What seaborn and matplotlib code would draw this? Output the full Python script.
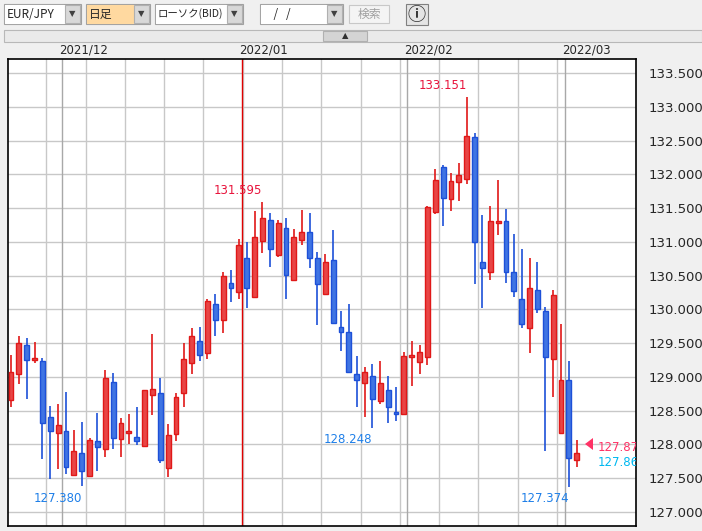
import matplotlib
matplotlib.use("Agg")
import matplotlib.pyplot as plt
from matplotlib.patches import Rectangle, Polygon
import numpy as np
import pandas as pd
import seaborn as sns

# daily EUR/JPY candles (BID)
opens = [128.66, 129.04, 129.47, 129.25, 129.23, 128.41, 128.17, 128.20, 127.55, 127.87,
         127.53, 128.05, 127.93, 128.92, 128.08, 128.17, 128.11, 127.98, 128.73, 128.76,
         127.65, 128.15, 128.76, 129.20, 129.53, 129.35, 130.08, 129.84, 130.39, 130.26,
         130.76, 130.18, 131.01, 131.33, 130.80, 131.20, 130.43, 131.02, 131.14, 130.76,
         130.23, 130.73, 129.74, 129.67, 129.04, 128.91, 129.01, 128.65, 128.81, 128.48,
         128.45, 129.29, 129.22, 129.30, 131.44, 132.11, 131.63, 131.89, 131.93, 132.55,
         130.70, 130.55, 131.28, 131.31, 130.55, 130.16, 129.73, 130.28, 129.97, 129.26,
         128.17, 128.96, 127.77]
closes = [129.07, 129.50, 129.25, 129.27, 128.32, 128.20, 128.29, 127.66, 127.90, 127.61,
          128.07, 127.96, 128.98, 128.10, 128.32, 128.18, 128.05, 128.80, 128.82, 127.77,
          128.14, 128.70, 129.26, 129.60, 129.32, 130.12, 129.84, 130.49, 130.32, 130.95,
          130.32, 131.07, 131.35, 130.89, 131.28, 130.51, 131.07, 131.14, 130.76, 130.37,
          130.70, 129.80, 129.67, 129.07, 128.96, 129.07, 128.67, 128.91, 128.56, 128.45,
          129.31, 129.30, 129.37, 131.52, 131.92, 131.65, 131.90, 131.99, 132.57, 131.00,
          130.62, 131.31, 131.31, 130.56, 130.27, 129.78, 130.31, 130.00, 129.30, 130.22,
          128.96, 127.80, 127.87]
highs = [129.32, 129.60, 129.57, 129.52, 129.28, 128.57, 128.60, 128.78, 128.22, 128.34,
         128.09, 128.47, 129.11, 129.06, 128.39, 128.45, 128.56, 128.81, 129.64, 128.98,
         128.30, 128.76, 129.50, 129.73, 129.74, 130.16, 130.23, 130.56, 130.59, 131.04,
         131.00, 131.46, 131.595, 131.42, 131.33, 131.36, 131.19, 131.47, 131.42, 130.85,
         130.82, 131.17, 129.98, 130.08, 129.31, 129.15, 129.19, 129.24, 129.01, 128.85,
         129.37, 129.53, 129.47, 131.53, 132.08, 132.14, 132.02, 132.16, 133.151, 132.61,
         131.39, 131.53, 131.91, 131.49, 131.11, 130.89, 130.76, 130.70, 130.03, 130.28,
         129.78, 129.23, 128.07]
lows = [128.55, 128.89, 128.68, 129.21, 127.78, 127.49, 127.64, 127.56, 127.55, 127.380,
        127.52, 127.60, 127.81, 127.93, 127.81, 128.00, 127.99, 127.98, 128.44, 127.73,
        127.52, 128.05, 128.55, 129.04, 129.23, 129.27, 129.60, 129.65, 130.11, 130.15,
        130.02, 130.18, 130.83, 130.63, 130.77, 130.15, 130.42, 130.95, 130.61, 129.77,
        130.23, 129.80, 129.38, 129.07, 128.56, 128.41, 128.248, 128.60, 128.32, 128.35,
        128.45, 128.87, 129.04, 129.17, 131.41, 131.24, 131.46, 131.61, 131.85, 130.37,
        130.02, 130.43, 131.10, 130.39, 130.19, 129.73, 129.35, 129.94, 127.91, 128.71,
        128.17, 127.374, 127.66]

week_lines = [4.5, 9.5, 14.5, 19.5, 24.5, 29.5, 34.5, 39.5, 44.5, 49.5, 54.5, 59.5, 64.5, 69.5]
month_lines = [6.5, 29.45, 50.4, 70.5]
month_labels = ["2021/12", "2022/01", "2022/02", "2022/03"]
price_ticks = [127.0, 127.5, 128.0, 128.5, 129.0, 129.5, 130.0, 130.5, 131.0, 131.5,
               132.0, 132.5, 133.0, 133.5]
high_marks = [(32, "131.595"), (58, "133.151")]
low_marks = [(9, "127.380"), (46, "128.248"), (71, "127.374")]
last_ask, last_bid = "127.873", "127.869"

df = pd.DataFrame({"open": opens, "high": highs, "low": lows, "close": closes})
df["idx"] = np.arange(len(df))
df["up"] = df["close"] >= df["open"]

sns.set_style("white")
plt.rcParams["font.family"] = ["DejaVu Sans", "Noto Sans CJK JP"]

W, H = 702, 531
fig = plt.figure(figsize=(W / 100, H / 100), dpi=100, facecolor="#f0f0f0")


def fx(x):
    return x / W


def fy(y):
    return 1 - y / H


# ---- toolbar ----
def box(x0, y0, x1, y1, fc="white", ec="#a0a0a0"):
    fig.patches.append(Rectangle((fx(x0), fy(y1)), fx(x1 - x0), (y1 - y0) / H,
                                 transform=fig.transFigure, fc=fc, ec=ec, lw=0.8))


def combo(x0, x1, text, fc="white", size=8.5):
    box(x0, 4, x1, 24)
    box(x0 + 1, 5, x1 - 17, 23, fc=fc, ec=fc)
    box(x1 - 16, 5, x1 - 1, 23, fc="#d8d8d8", ec="#b0b0b0")
    fig.text(fx(x1 - 8.5), fy(14), "▼", fontsize=6, ha="center", va="center", color="#404040")
    fig.text(fx(x0 + 3), fy(14), text, fontsize=size, ha="left", va="center",
             family=["Noto Sans CJK JP", "DejaVu Sans"])


combo(4, 81, "EUR/JPY")
combo(86, 150, "日足", fc="#ffd9a0")
combo(155, 243, "ローソク(BID)", size=7.5)
combo(260, 343, "    /   /")
box(349, 5, 389, 23, fc="#f4f4f4", ec="#c8c8c8")
fig.text(fx(369), fy(14), "検索", fontsize=8.5, ha="center", va="center", color="#a0a0a0",
         family=["Noto Sans CJK JP", "DejaVu Sans"])
box(406, 4, 428, 25, fc="#e4e4e4", ec="#808080")
fig.text(fx(417), fy(14.5), "ⓘ", fontsize=13, ha="center", va="center", color="#303030",
         fontweight="bold")

# collapse bar and date strip
box(4, 30, 702, 42, fc="#eaeaea", ec="#b8b8b8")
box(323, 31, 367, 41, fc="#d4d4d4", ec="#b0b0b0")
fig.text(fx(345), fy(36), "▲", fontsize=6, ha="center", va="center", color="#303030")

# ---- chart ----
ax = fig.add_axes([fx(8), 5 / H, fx(628), 467 / H])
ax.set_facecolor("white")
ax.set_xlim(-0.38, 79.55)
ax.set_ylim(126.793, 133.707)

for p in price_ticks:
    ax.axhline(p, color="#c8c8c8", lw=1, zorder=0)
for w in week_lines:
    ax.axvline(w, color="#c8c8c8", lw=1, zorder=0)
for i, m in enumerate(month_lines):
    ax.axvline(m, color="#e00000" if i == 1 else "#a8a8a8", lw=1, zorder=0.5)

red_face, red_edge = "#e84545", "#e01818"
blue_face, blue_edge = "#3f74e3", "#1d50d8"
for up, g in df.groupby("up"):
    fc, ec = (red_face, red_edge) if up else (blue_face, blue_edge)
    ax.vlines(g["idx"], g["low"], g["high"], color=ec, lw=1.2, zorder=2)
    bottom = g[["open", "close"]].min(axis=1)
    height = (g["close"] - g["open"]).abs().clip(lower=0.03)
    ax.bar(g["idx"], height, bottom=bottom, width=0.62, color=fc, edgecolor=ec,
           linewidth=1, zorder=3)

for i, t in high_marks:
    ax.annotate(t, (i, highs[i]), xytext=(0, 3), textcoords="offset points",
                ha="right", va="bottom", fontsize=8.5, color="#e8143c")
for i, t in low_marks:
    ax.annotate(t, (i, lows[i]), xytext=(0, -4), textcoords="offset points",
                ha="right", va="top", fontsize=8.5, color="#1e7fe8")

last = len(df) - 1
a1 = ax.annotate(last_ask, (last, closes[-1]), xytext=(15, 4), textcoords="offset points",
                 ha="left", va="center", fontsize=8.5, color="#ff3366", annotation_clip=False)
a2 = ax.annotate(last_bid, (last, closes[-1]), xytext=(15, -7), textcoords="offset points",
                 ha="left", va="center", fontsize=8.5, color="#00b8f0", annotation_clip=False)
for a in (a1, a2):
    a.set_clip_on(True)
    a.set_clip_box(ax.bbox)
tri = Polygon([(fx(585), fy(444)), (fx(593), fy(438)), (fx(593), fy(450))],
              closed=True, transform=fig.transFigure, fc="#ff3366", ec="none")
fig.patches.append(tri)

ax.yaxis.tick_right()
ax.set_yticks(price_ticks)
ax.set_yticklabels([f"{p:.3f}" for p in price_ticks], fontsize=9.5)
ax.tick_params(axis="y", length=0, pad=9)
ax.set_xticks([])
for s in ax.spines.values():
    s.set_color("black")
    s.set_linewidth(1.2)

for m, lab in zip(month_lines, month_labels):
    xpix = 8 + (m + 0.38) / (79.55 + 0.38) * 628
    fig.text(fx(xpix - 3), fy(50), lab, fontsize=8.5, ha="left", va="center")

fig.savefig("out.png", dpi=100, facecolor=fig.get_facecolor())
